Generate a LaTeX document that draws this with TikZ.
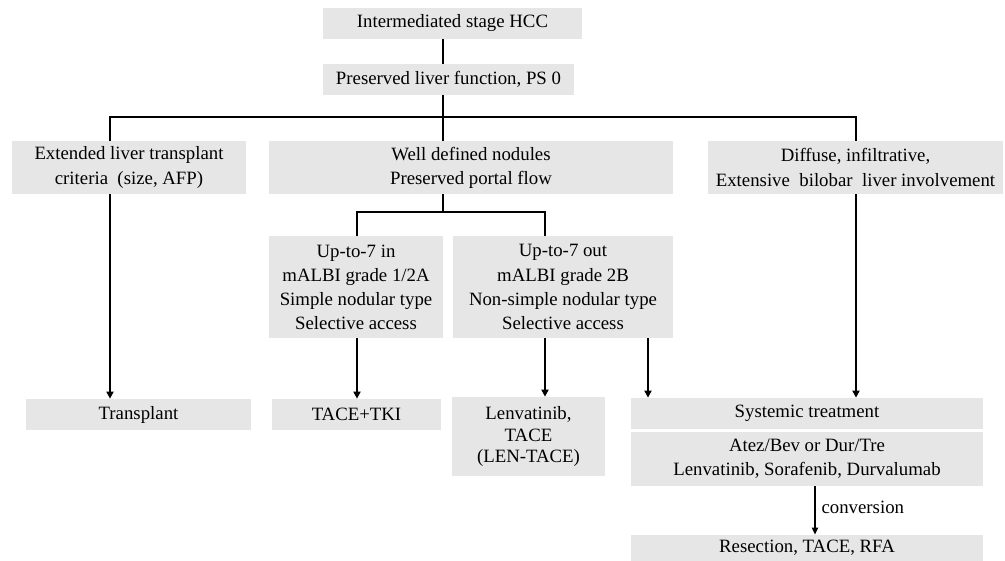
\documentclass[tikz,border=0pt]{standalone}
\usepackage{fontspec}
\setmainfont{Liberation Serif}
\usetikzlibrary{arrows.meta}
\definecolor{boxgray}{RGB}{230,230,230}

\begin{document}
\begin{tikzpicture} [x = 0.02cm, y = -0.02cm,
  box/.style = {fill = boxgray, inner sep = 0pt, align = center, font = \fontsize{10.7}{13.7}\selectfont},
  sz/.style 2 args = {minimum width = #1*0.02cm, minimum height = #2*0.02cm},
  link/.style = {line width = 1.1pt},
  arr/.style = {line width = 1.1pt, -{Triangle[length = 4pt, width = 4pt]}}]
\useasboundingbox (0, 0) rectangle (1005, 561);
% boxes
\node[box, sz = {259}{31}] (hcc) at (452.5, 23.5) {Intermediated stage HCC};
\node[box, sz = {251}{31}] (liver) at (448.5, 79.5) {Preserved liver function, PS 0};
\node[box, sz = {234}{53}] (ext) at (129.0, 167.5) {Extended liver transplant\\criteria~ (size, AFP)};
\node[box, sz = {404}{53}] (well) at (471.0, 167.5) {Well defined nodules\\Preserved portal flow};
\node[box, sz = {295}{53}] (diff) at (855.5, 167.5) {Diffuse, infiltrative,\\Extensive~ bilobar~ liver involvement};
\node[box, sz = {174}{102}] (upin) at (356.0, 287.0) {Up-to-7 in\\mALBI grade 1/2A\\Simple nodular type\\Selective access};
\node[box, sz = {220}{102}] (upout) at (563.0, 287.0) {Up-to-7 out\\mALBI grade 2B\\Non-simple nodular type\\Selective access};
\node[box, sz = {225}{31}] (transplant) at (138.5, 414.5) {Transplant};
\node[box, sz = {169}{31}] (tki) at (356.5, 414.5) {TACE+TKI};
\node[box, sz = {153}{79}, font = \fontsize{10.7}{12}\selectfont] (lenva) at (528.5, 436.5) {Lenvatinib,\\TACE\\(LEN-TACE)};
\node[box, sz = {352}{31}] (sys) at (807.0, 413.5) {Systemic treatment};
\node[box, sz = {352}{54}] (drugs) at (807.0, 459.0) {Atez/Bev or Dur/Tre\\Lenvatinib, Sorafenib, Durvalumab};
\node[box, sz = {352}{26}] (resect) at (807.0, 548.0) {Resection, TACE, RFA};
% branch points
\coordinate (trunk) at (443, 117);
\coordinate (lbar) at (110, 117);
\coordinate (rbar) at (856, 117);
\coordinate (split) at (443, 212);
\coordinate (sl) at (357, 212);
\coordinate (sr) at (545, 212);
\coordinate (ss) at (648, 212);
\coordinate (conv) at (815, 500);
% lines
\draw[link] (hcc.south -| trunk) -- (liver.north -| trunk);
\draw[link] (liver.south -| trunk) -- (well.north -| trunk);
\draw[link] (ext.north -| lbar) -- (lbar) -- (rbar) -- (diff.north -| rbar);
\draw[link] (well.south -| split) -- (split);
\draw[link] (upin.north -| sl) -- (sl) -- (sr) -- (upout.north -| sr);
% arrows
\draw[arr] (ext.south -| lbar) -- (transplant.north -| lbar);
\draw[arr] (upin.south -| sl) -- (tki.north -| sl);
\draw[arr] (upout.south -| sr) -- (lenva.north -| sr);
\draw[arr] (upout.south -| ss) -- (sys.north -| ss);
\draw[arr] (diff.south -| rbar) -- (sys.north -| rbar);
\draw[line width = 0.8pt, -{Triangle[length = 4pt, width = 3.5pt]}] (drugs.south -| conv) -- node[right, font = \fontsize{10.7}{13.7}\selectfont, yshift = 2pt] (convlbl) {conversion} (resect.north -| conv);
\end{tikzpicture}
\end{document}
